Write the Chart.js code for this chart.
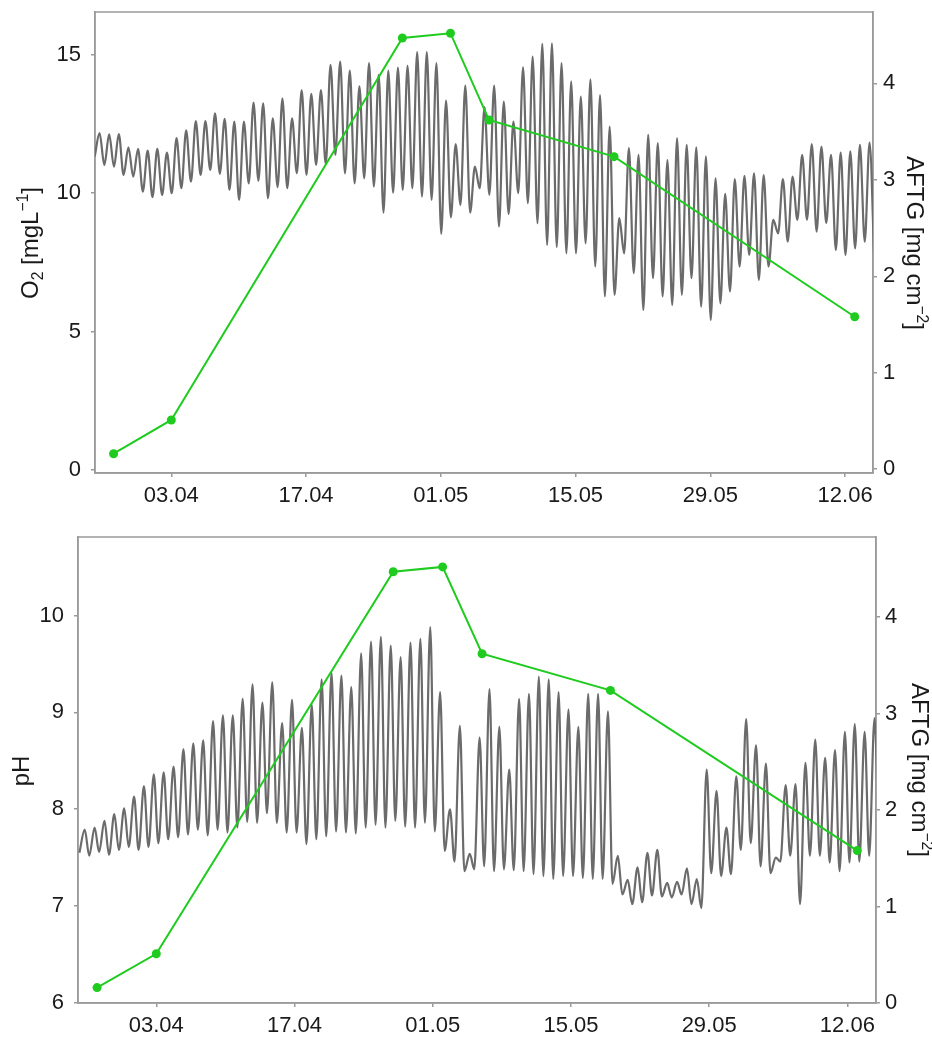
<!DOCTYPE html>
<html>
<head>
<meta charset="utf-8">
<script src="https://cdn.jsdelivr.net/npm/chart.js@4"></script>
<style>
    body { margin: 0; background: #fff; }
    #wrap { position: relative; width: 932px; height: 1037px; }
    canvas { position: absolute; left: 0; }
</style>
</head>
<body>
<div id="wrap">
    <canvas id="o2Chart" width="932" height="510" style="top:0"></canvas>
    <canvas id="phChart" width="932" height="517" style="top:520px"></canvas>
</div>
<script>
// x axis: days counted from 03.04
const tickDays = [0, 14, 28, 42, 56, 70];
const tickLabels = ['03.04', '17.04', '01.05', '15.05', '29.05', '12.06'];

const o2Ticks = [0, 5, 10, 15];
const phTicks = [6, 7, 8, 9, 10];
const aftgTicks = [0, 1, 2, 3, 4];

// AFTG sampling dates (days from 03.04) and values [mg cm-2]
const aftgDays = [-6, 0, 24, 29, 33, 46, 71];
const aftgValues = [0.16, 0.51, 4.47, 4.52, 3.62, 3.24, 1.58];

// daily readings, first entry is day -8 (26.03)
const firstDay = -8;

// O2 daily minimum (night) and maximum (afternoon) [mg/L]
const o2Low = [
    11.33, 11.02, 10.96, 10.66, 10.60, 10.06, 9.86, 9.94,
    10.00, 10.18, 10.42, 10.66, 10.84, 10.70, 10.12, 9.76, 10.36, 10.45,
    9.82, 10.22, 10.18, 10.72, 10.66, 11.02, 11.06, 11.39, 10.72, 10.36,
    10.54, 10.24, 9.30, 10.02, 10.12, 10.18, 9.88, 9.76, 8.53, 9.13,
    9.58, 9.30, 10.18, 9.94, 8.80, 9.25, 10.00, 9.64, 8.92, 8.13,
    8.05, 7.83, 7.83, 8.19, 7.35, 6.27, 6.33, 7.83, 7.11, 5.78,
    6.93, 6.27, 5.96, 6.33, 6.93, 5.90, 5.42, 6.02, 6.45, 7.35,
    7.77, 6.87, 7.35, 8.55, 8.25, 9.04, 9.04, 8.61, 8.92, 7.95,
    7.77, 8.01, 8.25, 7.5
];
const o2High = [
    12.17, 12.13, 12.14, 11.66, 11.60, 11.54, 11.60, 11.47,
    11.99, 12.27, 12.61, 12.61, 12.89, 12.69, 12.59, 12.59, 13.28, 13.25,
    12.71, 13.43, 12.71, 13.73, 13.59, 13.73, 14.64, 14.76, 14.43, 13.86,
    14.70, 14.28, 14.43, 14.54, 14.60, 15.10, 15.10, 14.70, 13.35, 11.78,
    13.89, 10.96, 13.11, 13.89, 13.31, 12.59, 14.55, 14.94, 15.40, 15.42,
    14.70, 14.04, 13.49, 14.12, 13.55, 12.41, 9.10, 11.63, 11.39, 12.11,
    11.81, 11.20, 11.99, 11.75, 11.66, 11.33, 10.54, 9.98, 10.51, 10.63,
    10.72, 10.66, 9.04, 10.51, 10.60, 11.39, 11.78, 11.69, 11.39, 11.47,
    11.51, 11.75, 11.83
];

// pH daily minimum and maximum
const phLow = [
    7.55, 7.52, 7.56, 7.53, 7.58, 7.61, 7.58, 7.61,
    7.65, 7.69, 7.71, 7.74, 7.79, 7.73, 7.79, 7.76, 7.81, 7.87,
    7.86, 7.96, 7.86, 7.76, 7.76, 7.64, 7.69, 7.72, 7.77, 7.76,
    7.75, 7.81, 7.84, 7.81, 7.88, 7.82, 7.81, 7.86, 7.77, 7.57,
    7.46, 7.36, 7.38, 7.41, 7.36, 7.38, 7.37, 7.36, 7.33, 7.31,
    7.28, 7.31, 7.31, 7.29, 7.28, 7.28, 7.23, 7.12, 7.02, 7.04,
    7.11, 7.10, 7.09, 7.12, 7.02, 6.98, 7.34, 7.31, 7.33, 7.58,
    7.65, 7.41, 7.34, 7.46, 7.52, 7.02, 7.52, 7.52, 7.45, 7.36,
    7.45, 7.46, 7.52, 7.55
];
const phHigh = [
    7.79, 7.81, 7.88, 7.95, 8.01, 8.13, 8.24, 8.36,
    8.38, 8.44, 8.62, 8.68, 8.71, 8.91, 8.97, 8.97, 9.14, 9.29,
    9.10, 9.31, 8.89, 9.13, 8.84, 9.08, 9.34, 9.41, 9.38, 9.26,
    9.61, 9.73, 9.78, 9.69, 9.57, 9.72, 9.76, 9.88, 9.21, 8.00,
    8.86, 7.54, 8.74, 9.24, 8.85, 8.41, 9.14, 9.19, 9.37, 9.34,
    9.21, 9.03, 8.85, 9.19, 9.19, 9.01, 7.52, 7.27, 7.40, 7.55,
    7.58, 7.24, 7.25, 7.39, 7.28, 8.41, 8.19, 7.81, 8.34, 8.93,
    8.66, 8.47, 7.50, 8.25, 8.26, 8.48, 8.72, 8.53, 8.61, 8.80,
    8.88, 8.80, 8.94
];

const fontFamily = "'Liberation Sans', Arial, sans-serif";
const textColor = '#1a1a1a';
const frameColor = '#9a9a9a';
const greyLine = '#6b6b6b';
const green = '#1ecb1e';

// hour of day for the daily minimum / maximum
function dailyPoints(low, high, lowHour, highHour) {
    const pts = [];
    low.forEach((v, i) => {
        const day = firstDay + i;
        pts.push({ x: day + lowHour / 24, y: v });
        if (high[i] !== undefined) {
            pts.push({ x: day + highHour / 24, y: high[i] });
        }
    });
    return pts;
}

function richText(ctx, parts, x, y, angle, size) {
    const small = size * 0.65;
    ctx.save();
    ctx.translate(x, y);
    ctx.rotate(angle);
    ctx.fillStyle = textColor;
    ctx.textBaseline = 'alphabetic';
    let total = 0;
    parts.forEach(p => {
        ctx.font = (p.shift ? small : size) + 'px ' + fontFamily;
        p.w = ctx.measureText(p.text).width;
        total += p.w;
    });
    let cx = -total / 2;
    parts.forEach(p => {
        ctx.font = (p.shift ? small : size) + 'px ' + fontFamily;
        let dy = 0;
        if (p.shift === 'sub') dy = size * 0.22;
        if (p.shift === 'sup') dy = -size * 0.42;
        ctx.fillText(p.text, cx, dy);
        cx += p.w;
    });
    ctx.restore();
}

function decorPlugin(leftParts, leftPos, rightParts, rightPos) {
    return {
        id: 'decor',
        beforeDatasetsDraw(chart) {
            const a = chart.chartArea;
            const ctx = chart.ctx;
            ctx.save();
            ctx.strokeStyle = frameColor;
            ctx.lineWidth = 1.5;
            ctx.strokeRect(a.left, a.top, a.right - a.left, a.bottom - a.top);
            ctx.restore();
        },
        afterDraw(chart) {
            const ctx = chart.ctx;
            richText(ctx, leftParts, leftPos[0], leftPos[1], -Math.PI / 2, 24);
            richText(ctx, rightParts, rightPos[0], rightPos[1], Math.PI / 2, 24);
        }
    };
}

function makePanel(id, p) {
    const tickFont = { family: fontFamily, size: 22 };
    const axisGrid = { drawOnChartArea: false, drawTicks: true, tickLength: 4, color: frameColor, lineWidth: 1.5 };
    const axisBorder = { color: frameColor, width: 1.5 };

    new Chart(document.getElementById(id), {
        type: 'line',
        data: {
            datasets: [
                {
                    data: p.series,
                    yAxisID: 'y',
                    borderColor: greyLine,
                    borderWidth: 2.2,
                    pointRadius: 0,
                    cubicInterpolationMode: 'monotone',
                    order: 2
                },
                {
                    data: aftgDays.map((d, i) => ({ x: d, y: aftgValues[i] })),
                    yAxisID: 'y2',
                    borderColor: green,
                    backgroundColor: green,
                    borderWidth: 2,
                    pointRadius: 4.5,
                    pointBorderWidth: 0,
                    tension: 0,
                    order: 1
                }
            ]
        },
        options: {
            responsive: false,
            animation: false,
            devicePixelRatio: 1,
            layout: { padding: { top: p.padTop, left: 0, right: 0, bottom: 0 } },
            plugins: { legend: { display: false }, tooltip: { enabled: false } },
            scales: {
                x: {
                    type: 'linear',
                    min: -7.93,
                    max: 72.9,
                    afterBuildTicks: s => { s.ticks = tickDays.map(v => ({ value: v })); },
                    afterFit: s => { s.height = p.xHeight; s.paddingLeft = 0; s.paddingRight = 0; },
                    ticks: {
                        font: tickFont, color: textColor, padding: 6, maxRotation: 0,
                        callback: v => tickLabels[tickDays.indexOf(v)]
                    },
                    grid: axisGrid,
                    border: axisBorder
                },
                y: {
                    position: 'left',
                    min: p.yMin,
                    max: p.yMax,
                    afterBuildTicks: s => { s.ticks = p.yTicks.map(v => ({ value: v })); },
                    afterFit: s => { s.width = p.leftWidth; s.paddingTop = 0; s.paddingBottom = 0; },
                    ticks: { font: tickFont, color: textColor, padding: 10 },
                    grid: axisGrid,
                    border: axisBorder
                },
                y2: {
                    position: 'right',
                    min: p.y2Min,
                    max: p.y2Max,
                    afterBuildTicks: s => { s.ticks = aftgTicks.map(v => ({ value: v })); },
                    afterFit: s => { s.width = p.rightWidth; s.paddingTop = 0; s.paddingBottom = 0; },
                    ticks: { font: tickFont, color: textColor, padding: p.rightPad },
                    grid: axisGrid,
                    border: axisBorder
                }
            }
        },
        plugins: [decorPlugin(p.leftTitle, p.leftPos, p.rightTitle, p.rightPos)]
    });
}

const aftgTitle = [{ text: 'AFTG [mg cm' }, { text: '\u22122', shift: 'sup' }, { text: ']' }];

makePanel('o2Chart', {
    series: dailyPoints(o2Low, o2High, 1, 13),
    yTicks: o2Ticks,
    yMin: -0.11, yMax: 16.55,
    y2Min: -0.04, y2Max: 4.74,
    padTop: 12, xHeight: 37, leftWidth: 95, rightWidth: 59, rightPad: 6,
    leftTitle: [{ text: 'O' }, { text: '2', shift: 'sub' }, { text: ' [mgL' }, { text: '\u22121', shift: 'sup' }, { text: ']' }],
    leftPos: [38, 243],
    rightTitle: aftgTitle,
    rightPos: [907, 243]
});

makePanel('phChart', {
    series: dailyPoints(phLow, phHigh, 5, 18),
    yTicks: phTicks,
    yMin: 6, yMax: 10.81,
    y2Min: 0, y2Max: 4.83,
    padTop: 17, xHeight: 34, leftWidth: 78, rightWidth: 56, rightPad: 5,
    leftTitle: [{ text: 'pH' }],
    leftPos: [29, 251],
    rightTitle: aftgTitle,
    rightPos: [912, 250]
});
</script>
</body>
</html>
